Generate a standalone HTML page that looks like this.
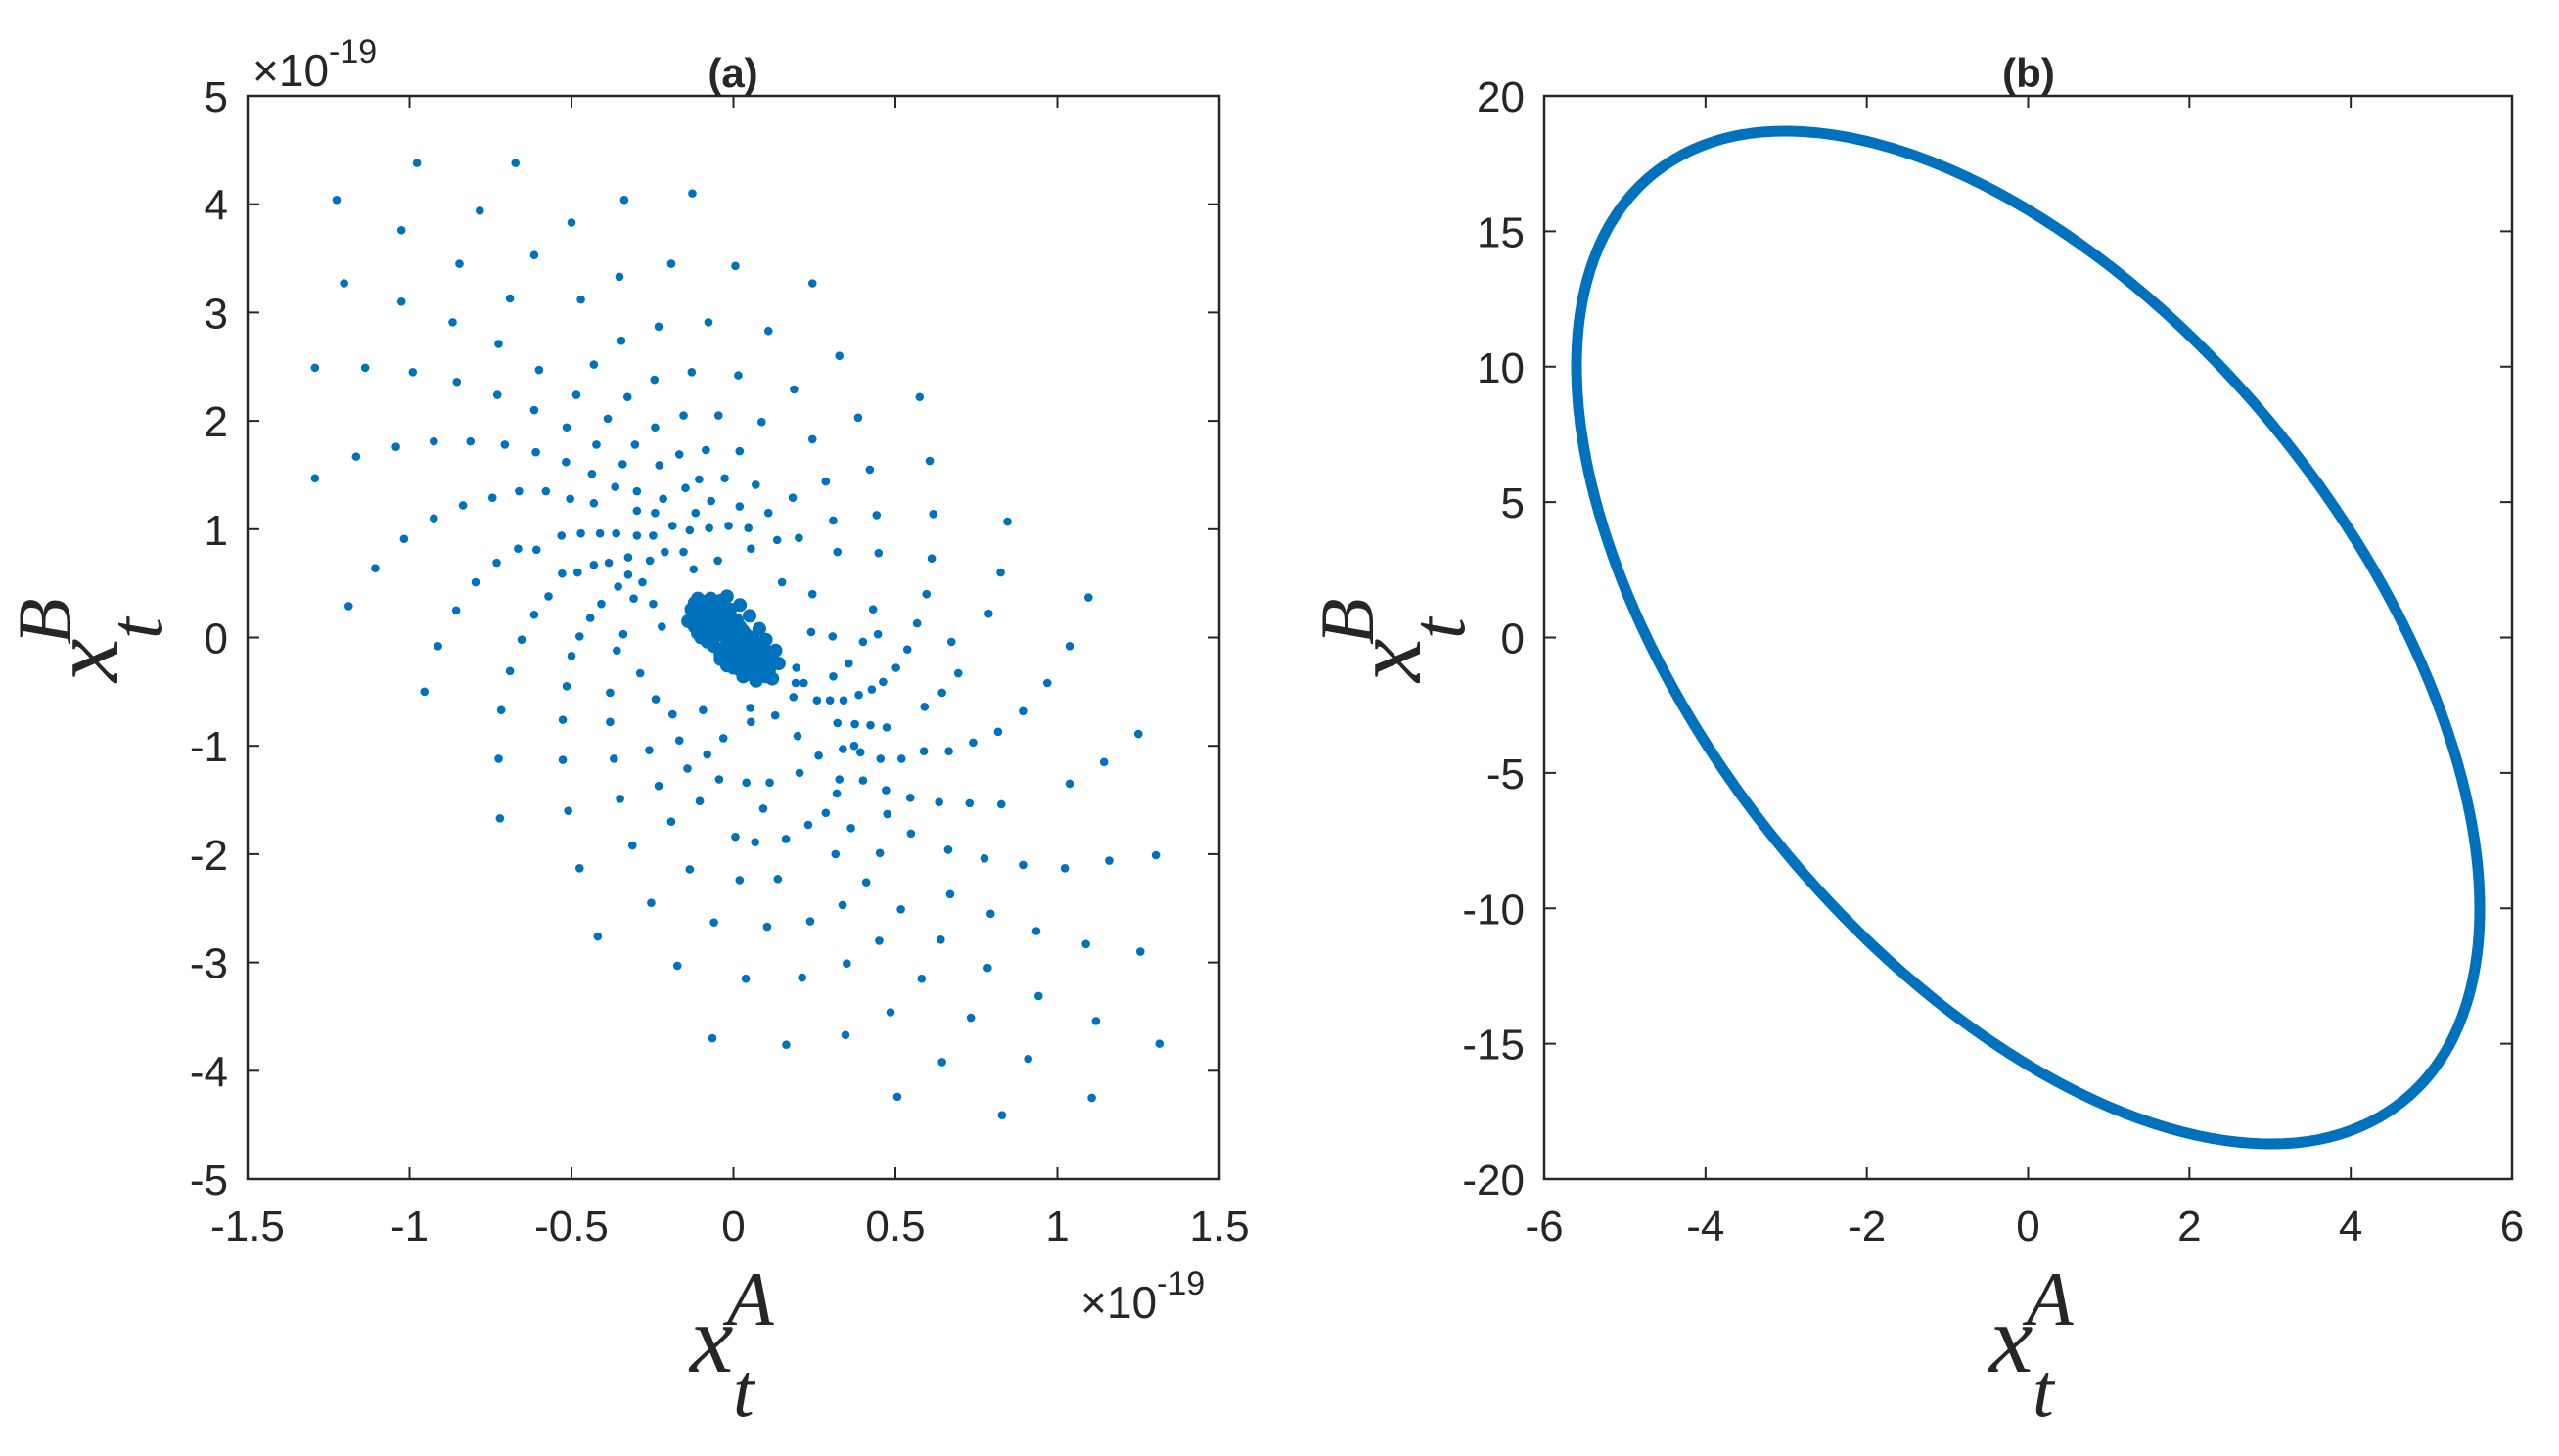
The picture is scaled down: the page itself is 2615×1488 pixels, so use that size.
<!DOCTYPE html>
<html><head><meta charset="utf-8"><style>
html,body{margin:0;padding:0;background:#fff;}
svg{display:block;}
text{font-family:"Liberation Sans",sans-serif;fill:#262626;}
.lab{font-family:"Liberation Serif",serif;font-style:italic;fill:#262626;}
</style></head><body>
<svg id="fig" width="2615" height="1488" viewBox="0 0 2615 1488" xmlns="http://www.w3.org/2000/svg">
<rect width="2615" height="1488" fill="#fff"/>
<g id="pa"></g>
<g id="pb"></g>
</svg>
<script>
// ---- Panel (a) data (units of 1e-19) ----
const aX = [-0.977,-0.673,-0.127,-1.225,-0.337,-0.783,-0.500,-1.025,-0.615,-0.846,-0.192,0.006,-0.352,-1.202,0.244,-0.690,-0.471,-1.025,-0.867,-0.077,-0.231,0.108,-0.346,-0.725,0.327,-0.431,-1.292,-1.137,-0.600,-0.990,-0.129,0.015,-0.244,-0.854,0.187,-0.485,-0.729,-0.327,0.575,-0.615,-0.154,-0.046,0.385,-0.388,0.087,-0.242,-0.515,0.244,-0.925,-0.812,-0.706,-0.423,-0.304,-1.042,-0.085,0.019,-0.610,-0.167,-1.165,0.606,-0.517,-0.342,-0.229,0.421,-0.437,-1.292,-0.027,-0.106,0.285,0.069,-0.365,-0.148,-0.662,-0.579,-0.298,0.183,-0.744,-0.504,-0.217,-0.069,-0.431,-0.835,0.019,-0.298,-0.242,-0.117,0.108,0.617,0.442,-0.925,0.308,0.846,-0.188,-0.015,-0.075,0.046,-0.135,-0.471,-0.412,-0.362,-0.531,-0.298,-0.248,0.202,-1.017,0.135,-0.665,0.054,-0.608,-0.212,-0.154,0.321,0.448,-0.325,0.612,-0.048,-0.258,-0.385,-0.731,-0.431,-1.106,-0.123,-0.481,0.825,-0.529,-0.325,-0.796,-0.281,0.150,-0.356,0.244,0.596,-0.571,1.096,-0.308,-0.408,-0.248,-1.188,0.431,-0.856,0.788,-0.615,-0.442,0.567,-0.221,0.240,-0.340,0.446,0.306,-0.475,-0.654,0.400,0.673,-0.912,1.038,0.537,-0.360,-0.500,0.356,0.194,0.502,-0.690,0.694,-0.288,0.308,0.462,0.969,0.192,0.217,-0.515,0.427,-0.954,-0.381,0.644,0.387,0.185,-0.240,0.258,0.298,0.340,0.590,0.052,-0.717,-0.094,0.894,-0.188,0.129,-0.527,-0.381,0.054,0.321,0.375,0.423,0.473,0.817,1.250,0.198,-0.031,-0.167,0.740,0.373,0.338,-0.260,0.588,0.665,0.392,-0.081,0.263,-0.725,-0.369,0.519,0.454,-0.527,1.144,-0.142,0.204,-0.044,0.327,0.400,0.040,0.112,1.038,-0.231,0.471,0.319,0.546,-0.350,-0.104,0.635,0.729,0.827,0.092,-0.510,0.285,0.475,-0.721,-0.192,0.231,0.363,0.548,0.006,0.162,0.067,-0.312,0.663,0.452,0.315,1.304,0.775,1.160,0.894,-0.475,1.023,-0.135,0.137,0.019,0.410,0.669,-0.254,0.337,0.517,0.794,0.237,-0.060,0.104,0.935,-0.419,0.640,0.450,1.088,1.256,0.350,-0.173,0.785,0.212,0.038,0.581,0.942,0.485,0.733,1.119,0.346,-0.065,1.315,0.163,0.910,0.644,0.506,1.106,0.829];
const aY = [4.38,4.38,4.10,4.04,4.04,3.94,3.83,3.76,3.53,3.45,3.45,3.43,3.33,3.27,3.27,3.13,3.12,3.10,2.91,2.91,2.87,2.83,2.74,2.71,2.60,2.52,2.49,2.49,2.47,2.45,2.45,2.42,2.38,2.36,2.29,2.24,2.24,2.22,2.22,2.10,2.05,2.05,2.03,2.02,1.99,1.94,1.94,1.83,1.81,1.81,1.78,1.78,1.78,1.76,1.73,1.72,1.71,1.69,1.67,1.63,1.62,1.60,1.59,1.55,1.51,1.47,1.47,1.46,1.44,1.41,1.39,1.38,1.35,1.35,1.35,1.29,1.29,1.28,1.28,1.26,1.24,1.22,1.21,1.17,1.15,1.15,1.15,1.14,1.13,1.10,1.08,1.07,1.03,1.03,1.01,1.01,0.99,0.96,0.96,0.96,0.94,0.94,0.94,0.92,0.91,0.90,0.82,0.82,0.81,0.79,0.79,0.79,0.78,0.74,0.73,0.71,0.71,0.69,0.69,0.67,0.64,0.63,0.60,0.60,0.59,0.58,0.51,0.51,0.51,0.47,0.40,0.40,0.38,0.37,0.36,0.31,0.31,0.29,0.26,0.25,0.22,0.21,0.18,0.13,0.10,0.05,0.03,0.03,0.01,0.01,-0.02,-0.04,-0.04,-0.08,-0.08,-0.11,-0.12,-0.17,-0.24,-0.28,-0.28,-0.31,-0.33,-0.33,-0.36,-0.41,-0.42,-0.42,-0.42,-0.45,-0.48,-0.50,-0.51,-0.51,-0.53,-0.55,-0.57,-0.58,-0.58,-0.58,-0.64,-0.65,-0.67,-0.67,-0.68,-0.71,-0.72,-0.76,-0.78,-0.78,-0.79,-0.80,-0.81,-0.83,-0.87,-0.89,-0.91,-0.93,-0.95,-0.97,-1.00,-1.03,-1.04,-1.05,-1.05,-1.06,-1.08,-1.09,-1.12,-1.12,-1.12,-1.12,-1.13,-1.15,-1.21,-1.25,-1.31,-1.31,-1.32,-1.34,-1.34,-1.35,-1.37,-1.41,-1.44,-1.48,-1.49,-1.51,-1.52,-1.53,-1.54,-1.58,-1.60,-1.62,-1.63,-1.67,-1.70,-1.73,-1.76,-1.81,-1.84,-1.86,-1.89,-1.92,-1.96,-1.99,-2.00,-2.01,-2.04,-2.06,-2.10,-2.13,-2.13,-2.14,-2.23,-2.24,-2.26,-2.37,-2.45,-2.47,-2.51,-2.55,-2.62,-2.63,-2.67,-2.71,-2.76,-2.79,-2.80,-2.83,-2.90,-3.01,-3.03,-3.05,-3.14,-3.15,-3.15,-3.31,-3.46,-3.51,-3.54,-3.67,-3.70,-3.75,-3.76,-3.89,-3.92,-4.24,-4.25,-4.41];
const coreX = [-0.11,-0.08,-0.05,-0.03,0.0,0.02,0.04,0.06,0.08,0.10,-0.07,-0.04,-0.01,0.02,0.04,0.06,0.09,0.11,-0.13,-0.10,-0.07,-0.05,-0.02,0.0,0.03,0.05,-0.14,-0.11,-0.08,-0.04,0.0,0.07,-0.02,0.02,0.05,0.08,0.10,0.13,0.14,-0.01,-0.03,0.01,-0.06,0.03,-0.09,0.07,-0.04,0.12,-0.12,-0.09,-0.06,-0.10,-0.07,-0.04,-0.12,-0.08,-0.03,-0.10,-0.05,0.0,-0.12,-0.08,-0.03,0.03,-0.10,-0.06,0.02,0.06,-0.06,-0.02,0.03,0.09,-0.04,0.0,0.05,0.10,-0.02,0.02,0.06,0.11,0.03,0.08,-0.09,-0.06,-0.03,0.0,0.03,0.05,0.08,-0.01,0.01,-0.07,-0.11,0.04,0.07,0.11,-0.02,0.01];
const coreY = [0.36,0.30,0.22,0.14,0.05,-0.04,-0.12,-0.20,-0.28,-0.36,0.36,0.28,0.20,0.10,0.02,-0.08,-0.18,-0.30,0.26,0.18,0.10,0.02,-0.06,-0.14,-0.24,-0.34,0.15,0.06,-0.04,-0.16,-0.28,-0.40,0.38,0.30,0.20,0.08,-0.02,-0.12,-0.24,0.0,0.06,-0.08,0.16,-0.16,0.24,-0.10,0.34,-0.38,0.32,0.33,0.30,0.28,0.25,0.24,0.20,0.20,0.18,0.12,0.12,0.12,0.10,0.06,0.06,0.06,0.0,0.0,0.0,0.0,-0.08,-0.10,-0.10,-0.06,-0.20,-0.20,-0.16,-0.12,-0.26,-0.30,-0.26,-0.22,-0.36,-0.34,0.14,0.08,0.02,-0.02,0.0,-0.06,-0.14,0.26,0.16,0.04,0.04,-0.24,-0.30,-0.16,-0.14,-0.22];
const aXTicks = [-1.5,-1,-0.5,0,0.5,1,1.5];
const aXTickLabels = ["-1.5","-1","-0.5","0","0.5","1","1.5"];
const aYTicks = [5,4,3,2,1,0,-1,-2,-3,-4,-5];
const aYTickLabels = ["5","4","3","2","1","0","-1","-2","-3","-4","-5"];

// ---- Panel (b) data ----
const bX = [5.60,5.515,5.262,4.850,4.290,3.600,2.800,1.915,0.972,0,-0.972,-1.915,-2.800,-3.600,-4.290,-4.850,-5.262,-5.515,-5.60,-5.515,-5.262,-4.850,-4.290,-3.600,-2.800,-1.915,-0.972,0,0.972,1.915,2.800,3.600,4.290,4.850,5.262,5.515];
const bY = [-10.02,-7.13,-4.02,-0.78,2.47,5.65,8.66,11.41,13.81,15.79,17.29,18.26,18.68,18.54,17.82,16.57,14.82,12.61,10.02,7.13,4.02,0.78,-2.47,-5.65,-8.66,-11.41,-13.81,-15.79,-17.29,-18.26,-18.68,-18.54,-17.82,-16.57,-14.82,-12.61];
const bXTicks = [-6,-4,-2,0,2,4,6];
const bXTickLabels = ["-6","-4","-2","0","2","4","6"];
const bYTicks = [20,15,10,5,0,-5,-10,-15,-20];
const bYTickLabels = ["20","15","10","5","0","-5","-10","-15","-20"];

const NS = "http://www.w3.org/2000/svg";
const BLUE = "#0072BD";
const TOP = 98, BOT = 1205;
function mk(parent, tag, attrs, txt) {
  const e = document.createElementNS(NS, tag);
  for (const k in attrs) e.setAttribute(k, attrs[k]);
  if (txt !== undefined) e.textContent = txt;
  parent.appendChild(e);
  return e;
}
function axes(g, L, R, xmin, xmax, ymin, ymax, xt, xtl, yt, ytl, prefix) {
  const sx = v => L + (v - xmin) / (xmax - xmin) * (R - L);
  const sy = v => TOP + (ymax - v) / (ymax - ymin) * (BOT - TOP);
  const box = mk(g, "rect", {x: L, y: TOP, width: R - L, height: BOT - TOP, fill: "none", stroke: "#262626", "stroke-width": 2.5});
  
  
  xt.forEach((v, i) => {
    const x = sx(v);
    const t1 = mk(g, "line", {x1: x, x2: x, y1: BOT, y2: BOT - 12, stroke: "#262626", "stroke-width": 2});
    
    
    const t2 = mk(g, "line", {x1: x, x2: x, y1: TOP, y2: TOP + 12, stroke: "#262626", "stroke-width": 2});
    
    
    const lb = mk(g, "text", {x: x, y: 1268, "font-size": 44, "text-anchor": "middle"}, xtl[i]);
    
    
  });
  yt.forEach((v, i) => {
    const y = sy(v);
    const t1 = mk(g, "line", {x1: L, x2: L + 12, y1: y, y2: y, stroke: "#262626", "stroke-width": 2});
    
    
    const t2 = mk(g, "line", {x1: R, x2: R - 12, y1: y, y2: y, stroke: "#262626", "stroke-width": 2});
    
    
    const lb = mk(g, "text", {x: L - 20, y: y + 16, "font-size": 44, "text-anchor": "end"}, ytl[i]);
    
    
  });
  return {sx, sy};
}
function labels(g, cx, yx, sup, prefix) {
  const xl = mk(g, "g", {});
  
  
  mk(xl, "text", {x: cx, y: 1402, "font-size": 100, class: "lab"}, "x");
  mk(xl, "text", {x: cx + 38, y: 1354, "font-size": 78, class: "lab"}, "A");
  mk(xl, "text", {x: cx + 44, y: 1447, "font-size": 78, class: "lab"}, "t");
  const yl = mk(g, "g", {transform: "translate(" + yx + ",697) rotate(-90)"});
  
  
  mk(yl, "text", {x: 0, y: 0, "font-size": 100, class: "lab"}, "x");
  mk(yl, "text", {x: 38, y: -48, "font-size": 78, class: "lab"}, sup);
  mk(yl, "text", {x: 44, y: 45, "font-size": 78, class: "lab"}, "t");
}

// Panel a
const ga = document.getElementById("pa");
const A = axes(ga, 253, 1246, -1.5, 1.5, -5, 5, aXTicks, aXTickLabels, aYTicks, aYTickLabels, "panel-a");
const dotsA = mk(ga, "g", {fill: BLUE});


for (let i = 0; i < aX.length; i++) {
  const c = mk(dotsA, "circle", {cx: A.sx(aX[i]), cy: A.sy(aY[i]), r: 4.3});
  
  
}
for (let i = 0; i < coreX.length; i++) {
  const c = mk(dotsA, "circle", {cx: A.sx(coreX[i]), cy: A.sy(coreY[i]), r: 7});
  
  
}
const ta = mk(ga, "text", {x: 749, y: 89, "font-size": 42, "font-weight": "bold", "text-anchor": "middle", fill: "#000"}, "(a)");


const ea = mk(ga, "text", {x: 258, y: 88, "font-size": 46});


ea.innerHTML = '×10<tspan dy="-24" font-size="34">-19</tspan>';
const eb = mk(ga, "text", {x: 1104, y: 1347, "font-size": 46});


eb.innerHTML = '×10<tspan dy="-24" font-size="34">-19</tspan>';
labels(ga, 705, 120, "B", "panel-a");

// Panel b
const gb = document.getElementById("pb");
const B = axes(gb, 1578, 2567, -6, 6, -20, 20, bXTicks, bXTickLabels, bYTicks, bYTickLabels, "panel-b");
const P = bX.map((v, i) => [B.sx(v), B.sy(bY[i])]);
const n = P.length;
let d = "M" + P[0][0].toFixed(1) + "," + P[0][1].toFixed(1);
for (let i = 0; i < n; i++) {
  const p0 = P[(i - 1 + n) % n], p1 = P[i], p2 = P[(i + 1) % n], p3 = P[(i + 2) % n];
  const c1 = [p1[0] + (p2[0] - p0[0]) / 6, p1[1] + (p2[1] - p0[1]) / 6];
  const c2 = [p2[0] - (p3[0] - p1[0]) / 6, p2[1] - (p3[1] - p1[1]) / 6];
  d += "C" + c1[0].toFixed(1) + "," + c1[1].toFixed(1) + " " + c2[0].toFixed(1) + "," + c2[1].toFixed(1) + " " + p2[0].toFixed(1) + "," + p2[1].toFixed(1);
}
const path = mk(gb, "path", {d: d + "Z", fill: "none", stroke: BLUE, "stroke-width": 11, "stroke-linejoin": "round"});


const tb = mk(gb, "text", {x: 2073, y: 89, "font-size": 42, "font-weight": "bold", "text-anchor": "middle", fill: "#000"}, "(b)");


labels(gb, 2033, 1451, "B", "panel-b");
</script>
</body></html>
